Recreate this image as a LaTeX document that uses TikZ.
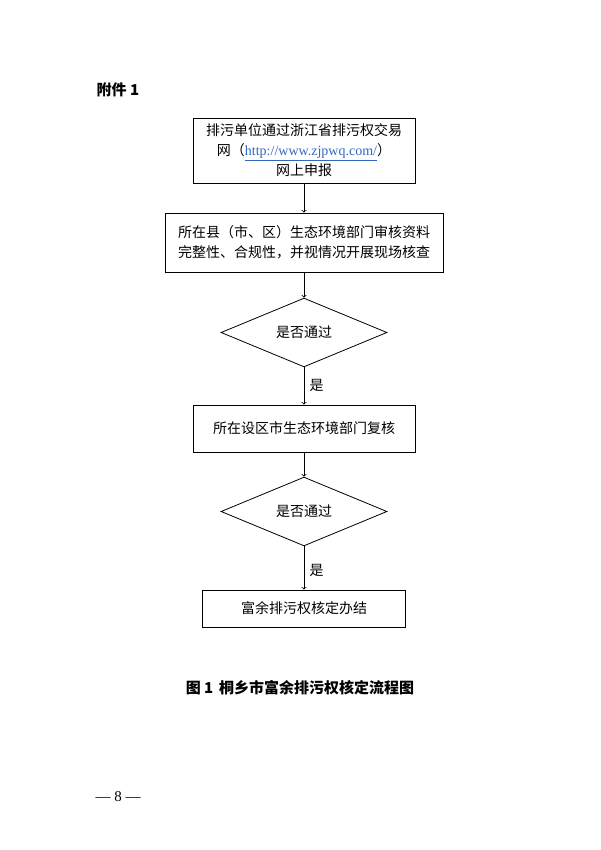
\documentclass[tikz,border=0pt]{standalone}
\usepackage{fontspec}
\setmainfont{Liberation Serif}
\newfontfamily\cjk{Noto Sans CJK SC}
\usetikzlibrary{shapes.geometric,arrows}
\definecolor{linkblue}{rgb}{0.2,0.4,0.75}
\tikzset{
  every node/.append style={font=\cjk\fontsize{14}{20}\selectfont},
  stepbox/.style={draw, thick, align=center, inner sep=0pt},
  check/.style={draw, thick, diamond, inner sep=0pt, minimum width=166pt, minimum height=61pt},
  flow/.style={->, >=to, thick}
}
\begin{document}
\begin{tikzpicture}[x=1pt,y=-1pt]
    \useasboundingbox (0,0) rectangle (600,850);
    \node[font=\cjk\bfseries\fontsize{15}{18}\selectfont] at (118,90) (att) {附件 1};
    \node[stepbox, minimum width=222pt, minimum height=65pt] at (304,150.5) (apply) {排污单位通过浙江省排污权交易\\网（{\color{linkblue}\fontspec{Liberation Serif}\underline{http://www.zjpwq.com/}}）\\网上申报};
    \node[stepbox, minimum width=278pt, minimum height=59pt] at (304,242.5) (county) {所在县（市、区）生态环境部门审核资料\\完整性、合规性，并视情况开展现场核查};
    \node[check] at (304,332.5) (pass1) {是否通过};
    \node[stepbox, minimum width=222pt, minimum height=47pt] at (304,428.5) (city) {所在设区市生态环境部门复核};
    \node[check] at (304,511.5) (pass2) {是否通过};
    \node[stepbox, minimum width=203pt, minimum height=37pt] at (304,608.5) (done) {富余排污权核定办结};
    \draw[flow] (apply) -- (county);
    \draw[flow] (county) -- (pass1);
    \draw[flow] (pass1) -- node[right=2pt] {是} (city);
    \draw[flow] (city) -- (pass2);
    \draw[flow] (pass2) -- node[right=2pt, pos=0.55] {是} (done);
    \node[font=\cjk\bfseries\fontsize{15}{18}\selectfont] at (300,688) (title) {图 1\, 桐乡市富余排污权核定流程图};
    \node[font=\fontsize{15}{18}\selectfont] at (118,797) (page) {— 8 —};
\end{tikzpicture}
\end{document}
